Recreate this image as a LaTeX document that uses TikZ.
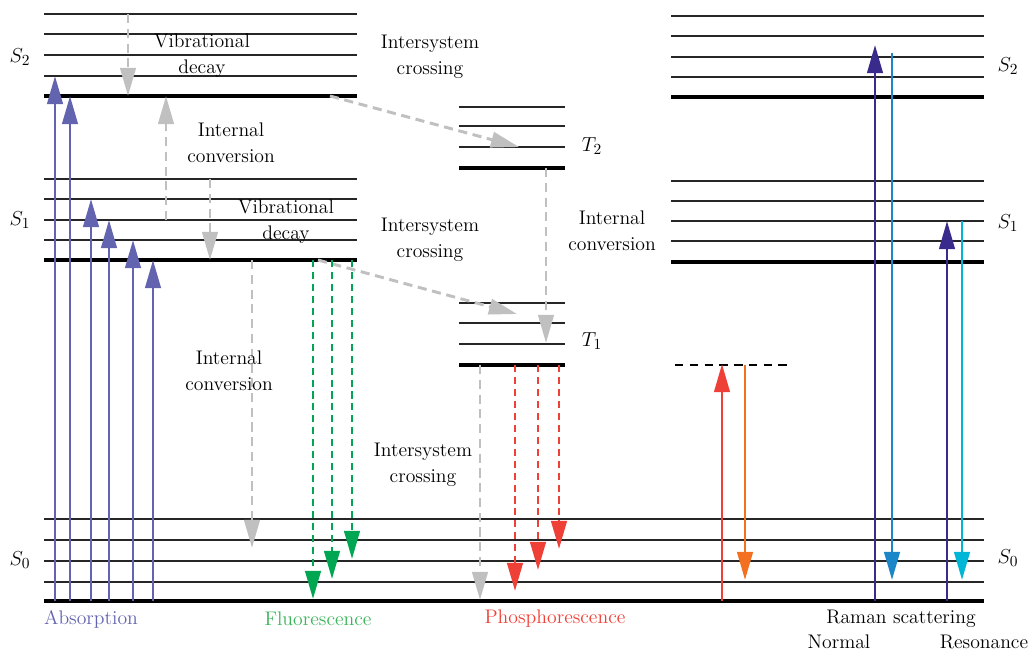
\documentclass[tikz,border=0pt]{standalone}
\usepackage{tikz}
\usetikzlibrary{arrows.meta}
\definecolor{absorb}{RGB}{99,100,175}
\definecolor{decay}{RGB}{192,192,192}
\definecolor{fluor}{RGB}{0,166,81}
\definecolor{fluortext}{RGB}{60,180,90}
\definecolor{phos}{RGB}{238,64,54}
\definecolor{rayout}{RGB}{243,112,33}
\definecolor{ramanin}{RGB}{57,43,140}
\definecolor{ramanout}{RGB}{27,135,201}
\definecolor{resout}{RGB}{0,182,214}
\tikzset{
  lvl/.style={line width=1.1pt,black!85},
  lvlbase/.style={line width=2.3pt,black},
  tip/.style={-{Triangle[length=20pt,width=11pt]}},
  pump/.style={tip,line width=2.1pt},
  emit/.style={tip,line width=2.1pt,dash pattern=on 5pt off 3.5pt},
  nonrad/.style={tip,line width=2.1pt,decay,dash pattern=on 6.5pt off 4pt},
  txt/.style={font=\fontsize{14}{18.4}\selectfont,align=center,inner sep=0pt},
  statelbl/.style={font=\fontsize{15.5}{17}\selectfont,inner sep=0pt},
}
\begin{document}
\begin{tikzpicture}[x=0.025cm,y=-0.025cm]
\useasboundingbox (0,0) rectangle (1030,652);
% singlet and triplet levels
\foreach \y in {14,34,55,76,179,199,220,240} \draw[lvl] (44,\y) -- (357,\y);
\foreach \y in {16,36,57,77,181,201,221,241} \draw[lvl] (671,\y) -- (984,\y);
\foreach \y in {519,540,561,582} \draw[lvl] (44,\y) -- (984,\y);
\foreach \y in {107,126,147,303,323,344} \draw[lvl] (459,\y) -- (565,\y);
\draw[lvlbase] (44,96) -- (357,96);
\draw[lvlbase] (44,260) -- (357,260);
\draw[lvlbase] (671,97) -- (984,97);
\draw[lvlbase] (671,262) -- (984,262);
\draw[lvlbase] (459,168) -- (565,168);
\draw[lvlbase] (459,365) -- (565,365);
\draw[lvlbase] (44,601) -- (984,601);
\draw[line width=1.8pt,dash pattern=on 6pt off 4.5pt] (675,365) -- (789,365);
\node[statelbl] (s2l) at (20,57) {\(S_2\)};
\node[statelbl] (s1l) at (20,220) {\(S_1\)};
\node[statelbl] (s0l) at (20,560) {\(S_0\)};
\node[statelbl] (t2l) at (592,146) {\(T_2\)};
\node[statelbl] (t1l) at (592,341) {\(T_1\)};
\node[statelbl] (s2r) at (1008,66) {\(S_2\)};
\node[statelbl] (s1r) at (1008,223) {\(S_1\)};
\node[statelbl] (s0r) at (1008,558) {\(S_0\)};
% absorption
\foreach \x/\y in {55/76,70/96,91/199,109/220,133/240,153/260}
  \draw[pump,absorb] (\x,601) -- (\x,\y);
% non radiative
\draw[nonrad] (128,14) -- (128,96);
\draw[nonrad] (166,220) -- (166,96);
\draw[nonrad] (210,179) -- (210,260);
\draw[nonrad] (252,260) -- (252,548);
\draw[nonrad] (330,96) -- (519,147);
\draw[nonrad] (318,260) -- (517,314);
\draw[nonrad] (546,168) -- (546,343);
\draw[nonrad] (480,365) -- (480,600);
% fluorescence and phosphorescence
\foreach \x/\y in {313/599,332/579,352/559}
  \draw[emit,fluor] (\x,260) -- (\x,\y);
\foreach \x/\y in {515/591,538/570,559/549}
  \draw[emit,phos] (\x,365) -- (\x,\y);
% rayleigh and raman
\draw[pump,phos] (722,601) -- (722,364);
\draw[pump,rayout] (745,365) -- (745,580);
\draw[pump,ramanin] (875,601) -- (875,45);
\draw[pump,ramanout] (892,53) -- (892,580);
\draw[pump,ramanin] (947,601) -- (947,221);
\draw[pump,resout] (962,221) -- (962,580);
% labels
\node[txt] (vd2) at (202,56) {Vibrational\\decay};
\node[txt] (ic21) at (231,143) {Internal\\conversion};
\node[txt] (vd1) at (286,222) {Vibrational\\decay};
\node[txt] (isc2) at (430,57) {Intersystem\\crossing};
\node[txt] (isc1) at (430,240) {Intersystem\\crossing};
\node[txt] (ict) at (612,231) {Internal\\conversion};
\node[txt] (ic10) at (229,371) {Internal\\conversion};
\node[txt] (isct) at (423,465) {Intersystem\\crossing};
\node[txt,text=absorb] (abs) at (91,619) {Absorption};
\node[txt,text=fluortext] (flu) at (318,619) {Fluorescence};
\node[txt,text=phos] (pho) at (555,619) {Phosphorescence};
\node[txt] (ram) at (901,619) {Raman scattering};
\node[txt] (nrm) at (839,642) {Normal};
\node[txt] (res) at (984,642) {Resonance};
\end{tikzpicture}
\end{document}
